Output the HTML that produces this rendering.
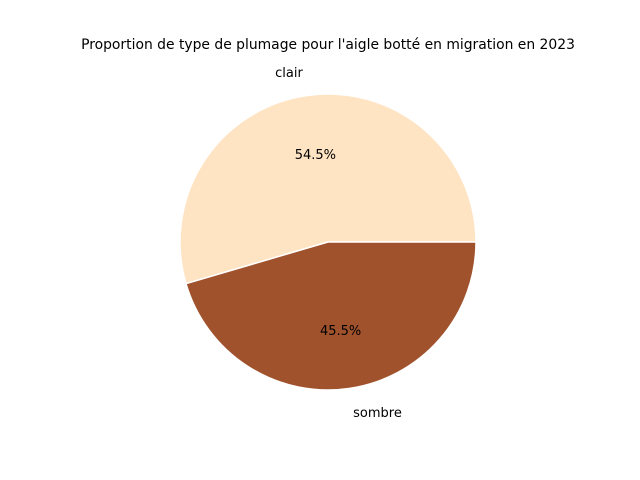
<!DOCTYPE html>
<html><head><meta charset="utf-8"><style>
body{margin:0;background:#fff}
svg{display:block;font-family:"DejaVu Sans","Liberation Sans",sans-serif}
</style></head><body>
<svg id="chart" width="640" height="480" viewBox="0 0 640 480">
<rect width="640" height="480" fill="#fff"/>
<text x="328" y="49" text-anchor="middle" font-size="13.9" fill="#000">Proportion de type de plumage pour l'aigle botté en migration en 2023</text>
<g id="slices"></g>
</svg>
<script>
const categories = ["clair", "sombre"];
const values = [6, 5];
const colors = ["#FFE4C4", "#A0522D"];
const cx = 328, cy = 242, r = 148;
const ns = "http://www.w3.org/2000/svg";
const g = document.getElementById("slices");
const total = values.reduce((a, b) => a + b, 0);
let start = 0;
function pt(angDeg, rad) {
  const a = angDeg * Math.PI / 180;
  return [cx + rad * Math.cos(a), cy - rad * Math.sin(a)];
}
values.forEach((v, i) => {
  const sweep = v / total * 360;
  const end = start + sweep;
  const [x1, y1] = pt(start, r), [x2, y2] = pt(end, r);
  const p = document.createElementNS(ns, "path");
  p.setAttribute("d", `M${cx},${cy} L${x1},${y1} A${r},${r} 0 ${sweep > 180 ? 1 : 0} 0 ${x2},${y2} Z`);
  p.setAttribute("fill", colors[i]);
  p.setAttribute("stroke", "#fff");
  p.setAttribute("stroke-width", "1.5");
  
  
  g.appendChild(p);
  const mid = start + sweep / 2;
  const [lx, ly] = pt(mid, r * 1.1);
  const t = document.createElementNS(ns, "text");
  t.setAttribute("x", lx - 2 + (Math.cos(mid * Math.PI / 180) < 0 ? 0 : 4));
  t.setAttribute("y", ly + 5 - 9 * Math.sin(mid * Math.PI / 180));
  t.setAttribute("font-size", "13");
  t.setAttribute("text-anchor", Math.cos(mid * Math.PI / 180) < 0 ? "end" : "start");
  t.textContent = categories[i];
  
  
  g.appendChild(t);
  const [px, py] = pt(mid, r * 0.6);
  const pc = document.createElementNS(ns, "text");
  pc.setAttribute("x", px);
  pc.setAttribute("y", py + 5);
  pc.setAttribute("font-size", "13");
  pc.setAttribute("text-anchor", "middle");
  pc.textContent = (v / total * 100).toFixed(1) + "%";
  
  
  g.appendChild(pc);
  start = end;
});
</script>
</body></html>
